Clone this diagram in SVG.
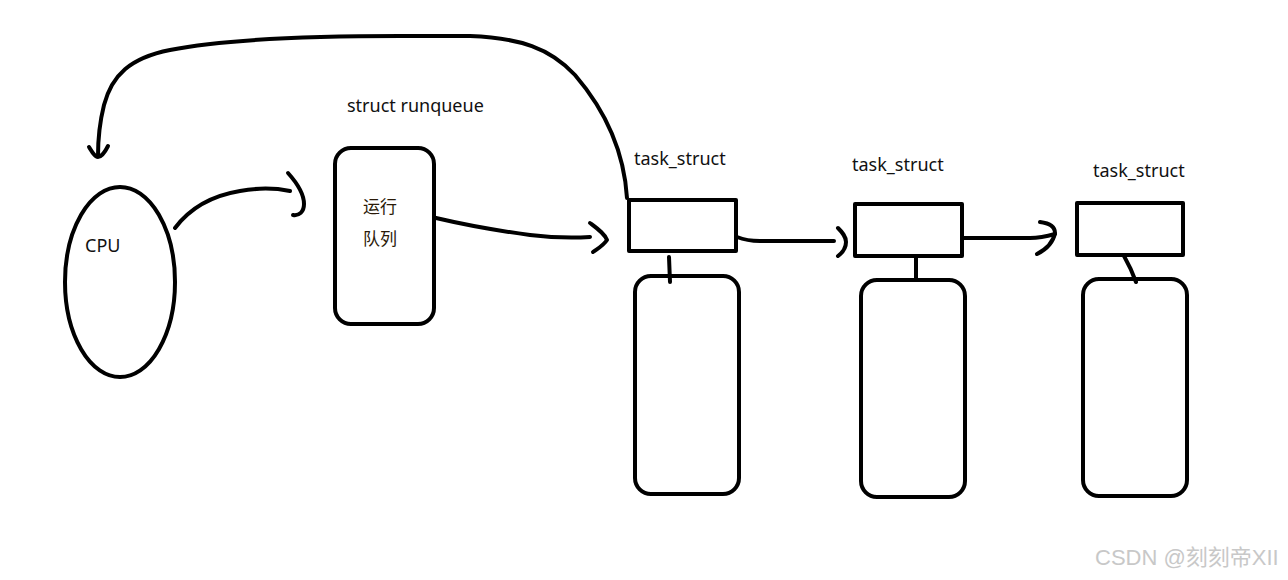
<svg xmlns="http://www.w3.org/2000/svg" width="1288" height="580" viewBox="0 0 1288 580">
<style>
.s{fill:none;stroke:#000;stroke-width:4;stroke-linecap:round;stroke-linejoin:round}
.t{font-family:"Noto Sans","Liberation Sans","Noto Sans CJK SC",sans-serif;font-size:18px;fill:#111}
.c{font-family:"Noto Sans CJK SC","Liberation Sans",sans-serif;font-size:17px;fill:#2a1a08}
.w{font-family:"Liberation Sans","Noto Sans CJK SC",sans-serif;font-size:22px;fill:#c8c8c8}
</style>
<rect width="1288" height="580" fill="#fff"/>
<g id="cpu">
<ellipse class="s" cx="120" cy="282" rx="55" ry="95"/>
<text class="t" x="85" y="252">CPU</text>
</g>
<g id="runqueue">
<text class="t" x="347" y="112">struct runqueue</text>
<rect class="s" x="335" y="148" width="99" height="176" rx="16"/>
<text class="c" x="363" y="213">运行</text>
<text class="c" x="363" y="245">队列</text>
</g>
<g id="task1">
<text class="t" x="634" y="165">task_struct</text>
<rect class="s" x="629" y="200" width="107" height="51"/>
<rect class="s" x="635" y="276" width="104" height="218" rx="16"/>
</g>
<g id="task2">
<text class="t" x="852" y="171">task_struct</text>
<rect class="s" x="855" y="204" width="107" height="52"/>
<rect class="s" x="861" y="280" width="104" height="217" rx="16"/>
</g>
<g id="task3">
<text class="t" x="1093" y="177">task_struct</text>
<rect class="s" x="1077" y="203" width="106" height="52"/>
<rect class="s" x="1083" y="279" width="104" height="217" rx="16"/>
</g>
<g id="connectors">
<path class="s" d="M627 198 C624 150 605 110 575 75 C550 48 520 38 470 36 L400 36 C300 36 220 40 170 50 C130 58 112 75 104 105 C99 125 98 140 98 156"/>
<path class="s" d="M89 147 C92 152 95 157 98 157 C102 157 105 152 108 146"/>
<path class="s" d="M175 228 C190 208 210 196 240 191 C262 187 280 189 290 191"/>
<path class="s" d="M288 173 C297 183 304 195 304 204 C304 212 299 216 293 215"/>
<path class="s" d="M436 218 C470 226 500 231 530 235 C555 238 575 238 590 237"/>
<path class="s" d="M590 223 C598 229 605 234 607 240 C603 246 597 249 593 252"/>
<path class="s" d="M737 237 C742 239 748 241 760 241 L834 241"/>
<path class="s" d="M838 228 C842 232 846 236 846 242 C846 248 842 253 838 256"/>
<path class="s" d="M963 238 L1030 238 C1040 238 1048 236 1055 234"/>
<path class="s" d="M1040 222 C1048 223 1055 226 1055 233 C1053 243 1045 250 1037 254"/>
<path class="s" d="M669 257 L670 282"/>
<path class="s" d="M916 256 L916 280"/>
<path class="s" d="M1124 256 C1128 263 1131 268 1136 282"/>
</g>
<text class="w" x="1095" y="565">CSDN @刻刻帝XII</text>
</svg>
